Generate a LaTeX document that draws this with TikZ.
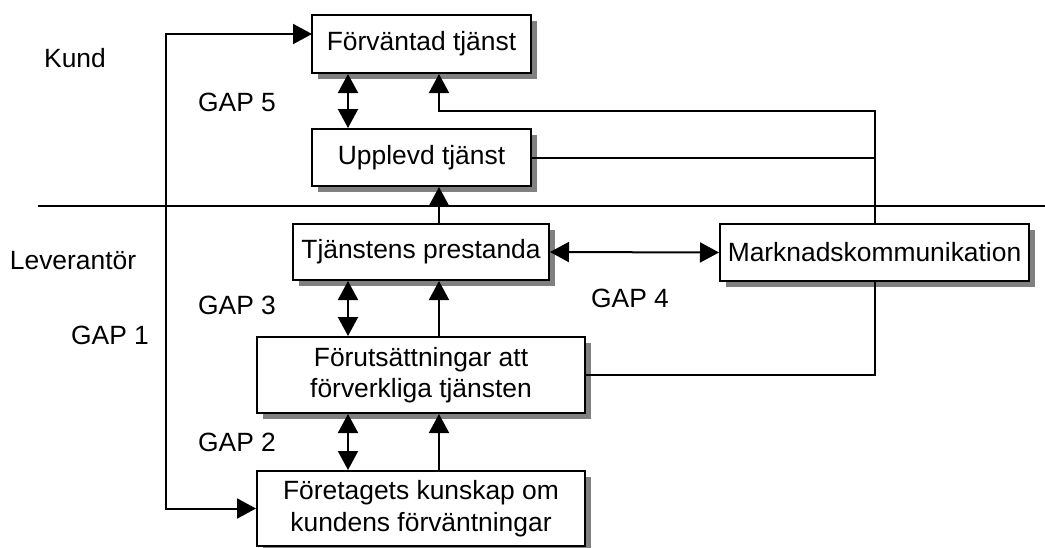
\documentclass[tikz,border=0pt]{standalone}
\usepackage{fontspec}
\setmainfont{Liberation Sans}
\usetikzlibrary{arrows.meta,shadows}
\begin{document}
\begin{tikzpicture}[x=1pt,y=-1pt,
  line width=2pt,
  every node/.style={font=\fontsize{26.4}{31.5}\selectfont},
  box/.style={draw=black, fill=white, line width=2pt, inner sep=0pt, align=center,
    drop shadow={shadow xshift=6pt, shadow yshift=-6pt, fill=black!50, opacity=1}},
  tri/.style={-{Triangle[length=19pt,width=20pt]}},
  dtri/.style={{Triangle[length=19pt,width=20pt]}-{Triangle[length=19pt,width=20pt]}},
  lbl/.style={inner sep=0pt}
]
\useasboundingbox (0,0) rectangle (1045,547);
% divider
\coordinate (divL) at (38,205.5);
\coordinate (divR) at (1045,205.5);
\draw (divL) -- (divR);
% boxes
\node[box, minimum width=219pt, minimum height=58pt] (F1) at (421.5,44) {Förväntad tjänst};
\node[box, minimum width=219pt, minimum height=57pt] (U) at (421.5,157.5) {Upplevd tjänst};
\node[box, minimum width=256pt, minimum height=56pt] (T) at (421,252) {Tjänstens prestanda};
\node[box, minimum width=309pt, minimum height=57pt] (M) at (874.5,252.5) {Marknadskommunikation};
\node[box, minimum width=328pt, minimum height=76pt] (P) at (421,375) {Förutsättningar att\\förverkliga tjänsten};
\node[box, minimum width=328pt, minimum height=75pt] (K) at (421,508.5) {Företagets kunskap om\\kundens förväntningar};
% labels
\node[lbl] (kund) at (75,58) {Kund};
\node[lbl] (lev) at (73,261) {Leverantör};
\node[lbl] (g1) at (110,335) {GAP 1};
\node[lbl] (g5) at (237,102) {GAP 5};
\node[lbl] (g3) at (237,305) {GAP 3};
\node[lbl] (g2) at (237,442) {GAP 2};
\node[lbl] (g4) at (630,298) {GAP 4};
% helper coordinates
\coordinate (loopT) at (166,34);
\coordinate (fIn) at (312,34);
\coordinate (c1) at (439,111);
\coordinate (xd) at (348,0);
\coordinate (xu) at (439,0);
% GAP 1 loop
\draw[dtri] (K.west) -| (loopT) -- (fIn);
% GAP 5
\draw[dtri] (F1.south -| xd) -- (U.north -| xd);
% marketing to expected
\draw[tri] (M.north) |- (c1) -- (c1 |- F1.south);
\draw (U.east) -- (U.east -| M.north);
% performance to perceived
\draw[tri] (T.north -| xu) -- (U.south -| xu);
% GAP 4
\draw[dtri] (T.east) -- (M.west);
% GAP 3
\draw[dtri] (T.south -| xd) -- (P.north -| xd);
\draw[tri] (P.north -| xu) -- (T.south -| xu);
% marketing to specs
\draw (M.south) |- (P.east);
% GAP 2
\draw[dtri] (P.south -| xd) -- (K.north -| xd);
\draw[tri] (K.north -| xu) -- (P.south -| xu);
\end{tikzpicture}
\end{document}
